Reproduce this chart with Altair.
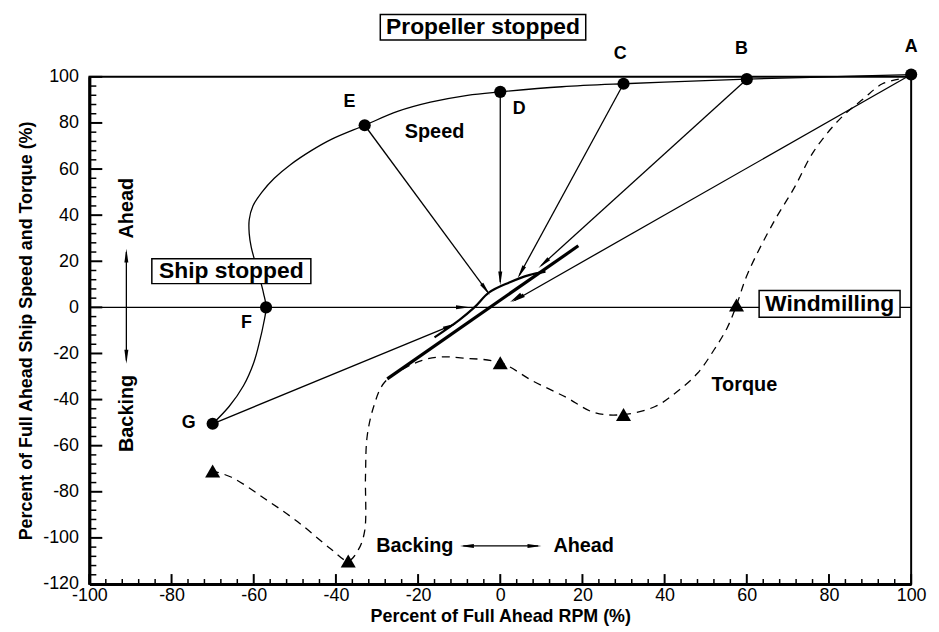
import math
import altair as alt
import pandas as pd

# ---------------- geometry of the plot area ----------------
W, H = 828, 511
XMIN, XMAX, YMIN, YMAX = -100, 100, -120, 100
SX = W / (XMAX - XMIN)
SY = H / (YMAX - YMIN)
FONT = "Liberation Sans"

# ---------------- data ----------------
speed_x = [100, 80, 60, 45, 30, 15, 0, -8, -17, -25, -33, -41, -46, -51, -55, -58, -60.2, -61.1,
           -61.1, -60.6, -59.7, -58.6, -57.6, -57, -57.6, -58.6, -60, -62.5, -66, -70]
speed_y = [101, 100, 99, 98, 97, 95.7, 93.5, 92, 89, 85, 79, 73, 68, 62, 56, 50, 44, 38,
           32, 26, 20, 13, 6, 0, -7, -15, -24, -34, -43, -50.5]

point_names = ["A", "B", "C", "D", "E", "F", "G"]
point_x = [100, 60, 30, 0, -33, -57, -70]
point_y = [101, 99, 97, 93.5, 79, 0, -50.5]
label_x = [100, 58.7, 29.2, 4.6, -36.7, -61.8, -75.8]
label_y = [113, 112, 110, 86, 89, -7, -50]

torque_x = [97, 93, 88.4, 82.8, 76.3, 71.5, 66.7, 60.2, 57.5, 55.3, 52, 48, 43, 37.7, 30,
            23, 16, 8, 0, -9, -14.7, -19, -23.4, -28.3, -30.8, -32.4, -32.8, -33, -34.5,
            -37, -41.3, -49.3, -57.3, -65.4, -70]
torque_y = [99, 97, 90.5, 82, 67.7, 51.7, 37.5, 14.6, 1, -8.6, -18.5, -28.6, -36.6, -43, -46.5,
            -45.7, -39, -32, -24, -22, -21.5, -23, -26.5, -32.8, -43, -56, -73, -97, -105,
            -110, -104.7, -93, -83, -73.7, -71]
tri_x = [57.5, 30, 0, -37, -70]
tri_y = [1, -46.5, -24, -110, -71]

# straight arrows: start -> tip
arrow_x0 = [-33, 0, 30, 60, -70, 100]
arrow_y0 = [79, 93.5, 97, 99, -50.5, 101]
arrow_x1 = [-3, 0, 4.6, 9.9, -11.4, 3.5]
arrow_y1 = [6.5, 11, 13.8, 18, -7.5, 3]

# thick trajectory line and lens curve near the origin
thick_x = [-27.5, 19]
thick_y = [-31, 26.7]
lens_x = [-16, -10, -6.3, -2.7, 2.2, 7, 11]
lens_y = [-13, -5.5, 0, 6.5, 10.8, 14, 15.5]

# other guide lines
zero_x = [-100, 100]
vert_arrow_x = -91
vert_arrow_y = [24, -23]
bot_arrow_x = [-9, 9.2]
bot_arrow_y = -103.5

# boxed labels
box_text = ["Propeller stopped", "Ship stopped", "Windmilling"]
box_x1 = [-29.2, -84.8, 63]
box_x2 = [20.8, -46.1, 97.3]
box_y1 = [127, 21.1, 7.3]
box_y2 = [116, 10.3, -4.3]

# free labels
free_text = ["Speed", "Torque", "Backing", "Ahead"]
free_x = [-16, 59.4, -20.8, 20.3]
free_y = [76, -33.6, -103.5, -103.5]
rot_text = ["Ahead", "Backing"]
rot_x = [-90.8, -90.8]
rot_y = [43, -46]

x_major = list(range(-100, 101, 20))
x_minor = [v for v in range(-100, 101, 4) if v % 20]
y_major = list(range(-120, 101, 20))
y_minor = [v for v in range(-120, 101, 4) if v % 20]

# ---------------- scales & axes ----------------
xs = alt.Scale(domain=[XMIN, XMAX], nice=False, zero=False)
ys = alt.Scale(domain=[YMIN, YMAX], nice=False, zero=False)
XT = "Percent of Full Ahead RPM (%)"
YT = "Percent of Full Ahead Ship Speed and Torque (%)"
LBL = "replace(datum.label, '\u2212', '-')"

x_axis = alt.Axis(values=x_major, title=XT, labelFont=FONT, labelExpr=LBL,
                  labelFontSize=18, labelColor="black", labelPadding=3, ticks=False, tickSize=0,
                  grid=False, domainColor="black", domainWidth=3, labelFlush=False,
                  labelOverlap=False, titleFont=FONT, titleFontSize=18, titleFontWeight="bold",
                  titleColor="black", titlePadding=3)
y_axis = alt.Axis(values=y_major, title=YT, labelExpr=LBL,
                  labelFont=FONT, labelFontSize=18, labelColor="black", labelPadding=11,
                  ticks=False, tickSize=0, grid=False, domainColor="black", domainWidth=3,
                  labelFlush=False, labelOverlap=False, titleFont=FONT, titleFontSize=18,
                  titleFontWeight="bold", titleColor="black", titlePadding=7)


def X(f="x"):
    return alt.X(f"{f}:Q", scale=xs, axis=x_axis, title=XT)


def Y(f="y"):
    return alt.Y(f"{f}:Q", scale=ys, axis=y_axis, title=YT)


# segments table
segs = []
for a, b, c, d in zip(arrow_x0, arrow_y0, arrow_x1, arrow_y1):
    segs.append(dict(x=a, y=b, x2=c, y2=d))
segs.append(dict(x=zero_x[0], y=0, x2=zero_x[1], y2=0))
segs.append(dict(x=vert_arrow_x, y=vert_arrow_y[0], x2=vert_arrow_x, y2=vert_arrow_y[1]))
segs.append(dict(x=bot_arrow_x[0], y=bot_arrow_y, x2=bot_arrow_x[1], y2=bot_arrow_y))
seg_df = pd.DataFrame(segs)

# arrowheads: tip + direction
heads = []
for a, b, c, d in zip(arrow_x0, arrow_y0, arrow_x1, arrow_y1):
    heads.append((c, d, c - a, d - b))
heads.append((-8.2, 0, 1, 0))
heads.append((vert_arrow_x, vert_arrow_y[0], 0, 1))
heads.append((vert_arrow_x, vert_arrow_y[1], 0, -1))
heads.append((bot_arrow_x[0], bot_arrow_y, -1, 0))
heads.append((bot_arrow_x[1], bot_arrow_y, 1, 0))
heads.append((3.0, 3.0, thick_x[0] - thick_x[1], thick_y[0] - thick_y[1]))
HALF = 6.0
head_rows = []
for tx, ty, dx, dy in heads:
    sx, sy = dx * SX, dy * SY
    n = math.hypot(sx, sy)
    ux, uy = sx / n, sy / n
    ang = math.degrees(math.atan2(sx, sy)) % 360
    head_rows.append(dict(x=tx - ux * HALF / SX, y=ty - uy * HALF / SY, angle=ang))
head_df = pd.DataFrame(head_rows)

speed_df = pd.DataFrame(dict(x=speed_x, y=speed_y, i=range(len(speed_x))))
torque_df = pd.DataFrame(dict(x=torque_x, y=torque_y, i=range(len(torque_x))))
lens_df = pd.DataFrame(dict(x=lens_x, y=lens_y, i=range(len(lens_x))))
thick_df = pd.DataFrame(dict(x=[thick_x[0]], y=[thick_y[0]], x2=[thick_x[1]], y2=[thick_y[1]]))
pts_df = pd.DataFrame(dict(x=point_x, y=point_y))
lab_df = pd.DataFrame(dict(x=label_x, y=label_y, t=point_names))
tri_df = pd.DataFrame(dict(x=tri_x, y=tri_y))
box_df = pd.DataFrame(dict(x=box_x1, x2=box_x2, y=box_y1, y2=box_y2, t=box_text,
                           cx=[(a + b) / 2 for a, b in zip(box_x1, box_x2)],
                           cy=[(a + b) / 2 for a, b in zip(box_y1, box_y2)]))
free_df = pd.DataFrame(dict(x=free_x, y=free_y, t=free_text))
rot_df = pd.DataFrame(dict(x=rot_x, y=rot_y, t=rot_text))

# ---------------- inward ticks ----------------
xmaj = alt.Chart(pd.DataFrame(dict(x=x_major))).mark_rule(color="black", strokeWidth=2).encode(
    x=X(), y=alt.value(H), y2=alt.value(H - 10))
xmin_ = alt.Chart(pd.DataFrame(dict(x=x_minor))).mark_rule(color="black", strokeWidth=1.5).encode(
    x=X(), y=alt.value(H), y2=alt.value(H - 5))
ymaj = alt.Chart(pd.DataFrame(dict(y=y_major))).mark_rule(color="black", strokeWidth=2).encode(
    y=Y(), x=alt.value(0), x2=alt.value(13))
ymin_ = alt.Chart(pd.DataFrame(dict(y=y_minor))).mark_rule(color="black", strokeWidth=1.5).encode(
    y=Y(), x=alt.value(0), x2=alt.value(7))

# ---------------- data layers ----------------
seg_layer = alt.Chart(seg_df).mark_rule(color="black", strokeWidth=1.3).encode(
    x=X(), y=Y(), x2="x2:Q", y2="y2:Q")
thick_layer = alt.Chart(thick_df).mark_rule(color="black", strokeWidth=3.2).encode(
    x=X(), y=Y(), x2="x2:Q", y2="y2:Q")
speed_layer = alt.Chart(speed_df).mark_line(color="black", strokeWidth=1.3,
                                             interpolate="catmull-rom").encode(
    x=X(), y=Y(), order="i:Q")
lens_layer = alt.Chart(lens_df).mark_line(color="black", strokeWidth=2.2,
                                           interpolate="catmull-rom").encode(
    x=X(), y=Y(), order="i:Q")
torque_layer = alt.Chart(torque_df).mark_line(color="black", strokeWidth=1.3, strokeDash=[8, 6],
                                               interpolate="catmull-rom").encode(
    x=X(), y=Y(), order="i:Q")
head_layer = alt.Chart(head_df).mark_point(shape="wedge", filled=True, color="black", opacity=1,
                                            size=260).encode(
    x=X(), y=Y(), angle=alt.Angle("angle:Q", scale=None))
pts_layer = alt.Chart(pts_df).mark_point(shape="circle", filled=True, color="black", opacity=1,
                                          size=150).encode(x=X(), y=Y())
tri_layer = alt.Chart(tri_df).mark_point(shape="triangle-up", filled=True, color="black", opacity=1,
                                          size=230).encode(x=X(), y=Y())
lab_layer = alt.Chart(lab_df).mark_text(font=FONT, fontSize=18, fontWeight="bold", color="black").encode(
    x=X(), y=Y(), text="t:N")
box_layer = alt.Chart(box_df).mark_rect(fill="white", stroke="black", strokeWidth=1.5).encode(
    x=X(), y=Y(), x2="x2:Q", y2="y2:Q")
box_text_layer = alt.Chart(box_df).mark_text(font=FONT, fontSize=23, fontWeight="bold",
                                              color="black").encode(
    x=X("cx"), y=Y("cy"), text="t:N")
free_layer = alt.Chart(free_df).mark_text(font=FONT, fontSize=20, fontWeight="bold", color="black").encode(
    x=X(), y=Y(), text="t:N")
rot_layer = alt.Chart(rot_df).mark_text(font=FONT, fontSize=20, fontWeight="bold", color="black",
                                         angle=270).encode(x=X(), y=Y(), text="t:N")

chart = alt.layer(
    xmaj, xmin_, ymaj, ymin_,
    seg_layer, thick_layer, speed_layer, lens_layer, torque_layer,
    head_layer, pts_layer, tri_layer,
    box_layer, box_text_layer, lab_layer, free_layer, rot_layer,
).properties(
    width=W, height=H,
    autosize=alt.AutoSizeParams(type="none"),
    padding={"left": 82, "top": 67, "right": 20, "bottom": 46},
    background="white",
).configure_view(stroke="black", strokeWidth=2)

chart.save("out.html", embed_options={"renderer": "svg", "actions": False})
